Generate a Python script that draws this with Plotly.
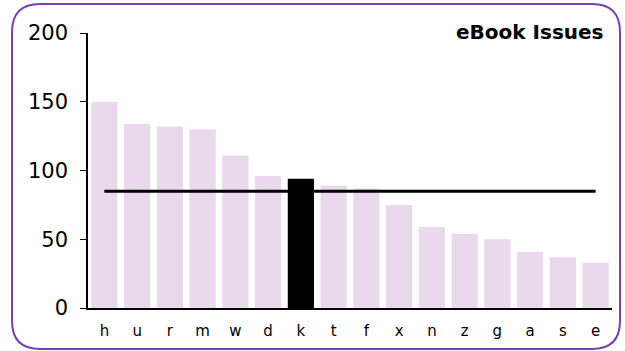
import plotly.graph_objects as go

categories = ["h", "u", "r", "m", "w", "d", "k", "t", "f", "x", "n", "z", "g", "a", "s", "e"]
values = [150, 134, 132, 130, 111, 96, 94, 89, 87, 75, 59, 54, 50, 41, 37, 33]
highlight = "k"
average = 85
title_text = "eBook Issues"
y_ticks = [0, 50, 100, 150, 200]

W, H = 625, 351
L, R, T, B = 88, 13, 33, 43
pw, ph = W - L - R, H - T - B

def px(x):
    return (x - L) / pw

def py(y):
    return (H - B - y) / ph

colors = ["#000000" if c == highlight else "#ead9ec" for c in categories]

fig = go.Figure()
fig.add_trace(go.Bar(x=categories, y=values, marker=dict(color=colors, line=dict(width=0)),
                     showlegend=False, hoverinfo="x+y"))
fig.add_trace(go.Scatter(x=categories, y=[average] * len(categories), mode="lines",
                         line=dict(color="#000000", width=3), showlegend=False))

# rounded frame
x0, x1, y0, y1, r = 12, 620, 4, 349, 28
path = (f"M {px(x0 + r)},{py(y0)} L {px(x1 - r)},{py(y0)} "
        f"Q {px(x1)},{py(y0)} {px(x1)},{py(y0 + r)} "
        f"L {px(x1)},{py(y1 - r)} Q {px(x1)},{py(y1)} {px(x1 - r)},{py(y1)} "
        f"L {px(x0 + r)},{py(y1)} Q {px(x0)},{py(y1)} {px(x0)},{py(y1 - r)} "
        f"L {px(x0)},{py(y0 + r)} Q {px(x0)},{py(y0)} {px(x0 + r)},{py(y0)} Z")
fig.add_shape(type="path", path=path, xref="paper", yref="paper",
              line=dict(color="#7b3fb5", width=2), layer="below")

fig.add_annotation(text=f"<b>{title_text}</b>", xref="paper", yref="paper",
                   x=px(606), y=py(32), xanchor="right", yanchor="middle",
                   showarrow=False, font=dict(size=20, color="#000000"))

fig.update_layout(
    width=W, height=H,
    margin=dict(l=L, r=R, t=T, b=B),
    paper_bgcolor="white", plot_bgcolor="white",
    bargap=0.2,
    font=dict(family="DejaVu Sans, Verdana, sans-serif", color="#000000"),
)
fig.update_yaxes(range=[0, 200], tickvals=y_ticks, showgrid=False, zeroline=False,
                 showline=True, linecolor="#000000", linewidth=1.5,
                 ticks="outside", ticklen=6, tickcolor="#000000",
                 tickfont=dict(size=21), ticklabelstandoff=8)
fig.update_xaxes(showgrid=False, showline=True, linecolor="#000000", linewidth=1.5,
                 ticks="", tickfont=dict(size=15), ticklabelstandoff=8)

fig.write_html("out.html", config={"displayModeBar": False},
               post_script="document.body.style.margin='0';document.body.style.overflow='hidden';")
